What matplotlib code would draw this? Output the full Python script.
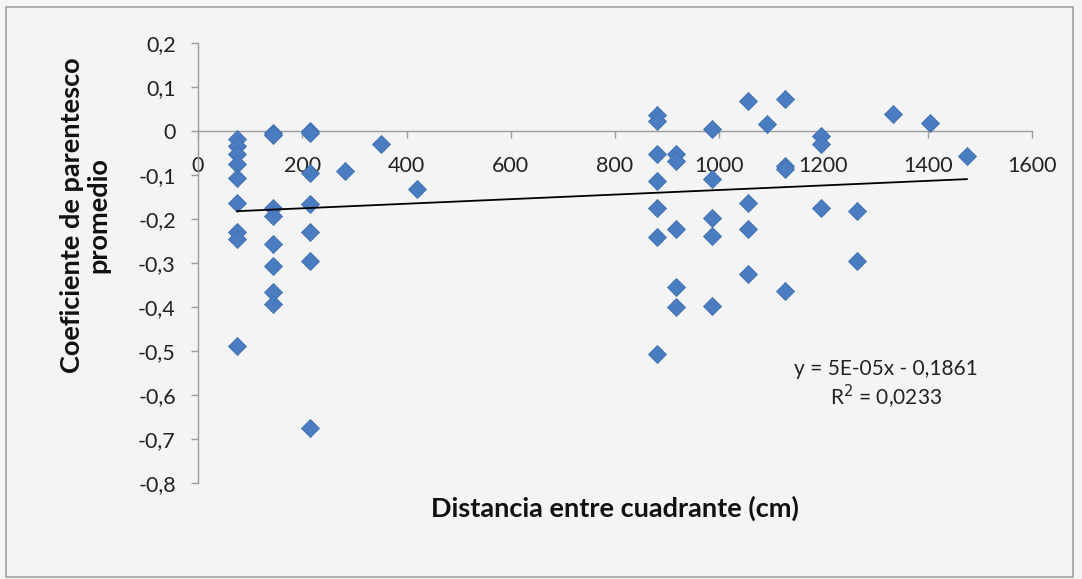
import numpy as np
import matplotlib
matplotlib.use("Agg")
import matplotlib.pyplot as plt
from matplotlib.patches import Rectangle

plt.rcParams['font.family'] = ['Lato', 'DejaVu Sans']

# data (distance in cm, mean relatedness)
dist = [75, 75, 75, 75, 75, 75, 75, 75, 75,
        143, 143, 143, 143, 143, 143, 143, 143,
        215, 215, 215, 215, 215, 215, 215,
        282, 352, 421,
        880, 880, 880, 880, 880, 880, 880,
        917, 917, 917, 917, 917,
        987, 987, 987, 987, 987,
        1056, 1056, 1056, 1056,
        1091,
        1126, 1126, 1126, 1126,
        1195, 1195, 1195,
        1265, 1265,
        1334, 1404, 1475]
coef = [-0.019, -0.034, -0.053, -0.076, -0.106, -0.163, -0.230, -0.245, -0.488,
        -0.004, -0.010, -0.174, -0.193, -0.257, -0.306, -0.367, -0.393,
        0.000, -0.005, -0.095, -0.166, -0.230, -0.295, -0.676,
        -0.091, -0.030, -0.132,
        0.037, 0.022, -0.053, -0.113, -0.174, -0.242, -0.506,
        -0.053, -0.068, -0.223, -0.355, -0.400,
        0.004, -0.110, -0.197, -0.238, -0.397,
        0.068, -0.163, -0.223, -0.325,
        0.015,
        0.072, -0.080, -0.087, -0.363,
        -0.011, -0.030, -0.174,
        -0.181, -0.295,
        0.038, 0.019, -0.057]

# trend line as shown on the chart
trend_slope = 5.2e-05
trend_intercept = -0.1861
eq_text = "y = 5E-05x - 0,1861\nR$^2$ = 0,0233"

x_ticks = [0, 200, 400, 600, 800, 1000, 1200, 1400, 1600]
y_ticks = [0.2, 0.1, 0, -0.1, -0.2, -0.3, -0.4, -0.5, -0.6, -0.7, -0.8]

bg = '#f4f4f4'
axis_col = '#9c9c9c'

fig = plt.figure(figsize=(10.82, 5.79), dpi=100, facecolor=bg)
ax = fig.add_axes([198 / 1082, 96 / 579, 834 / 1082, 440 / 579])
ax.set_facecolor(bg)

ax.plot(dist, coef, ls='none', marker='D', ms=9.5, color='#4a7dc0',
        mec='#3f6fb0', mew=0.6, zorder=3)

xs = np.array([min(dist), max(dist)])
ax.plot(xs, trend_slope * xs + trend_intercept, color='black', lw=1.3, zorder=4)

ax.set_xlim(0, 1600)
ax.set_ylim(-0.8, 0.2)
ax.set_xticks(x_ticks)
ax.set_yticks(y_ticks)
ax.set_xticklabels([str(v) for v in x_ticks])
ax.set_yticklabels([f"{v:g}".replace('.', ',') for v in y_ticks])

for s in ['top', 'right']:
    ax.spines[s].set_visible(False)
ax.spines['bottom'].set_position(('data', 0))
for s in ['bottom', 'left']:
    ax.spines[s].set_color(axis_col)
    ax.spines[s].set_linewidth(1.0)

ax.tick_params(axis='x', direction='out', length=5, width=1, color=axis_col,
               labelsize=15.5, pad=13, labelcolor='#222222')
ax.tick_params(axis='y', direction='out', length=5, width=1, color=axis_col,
               labelsize=15.5, pad=11, labelcolor='#222222')

ax.text(-0.1355, 0.609, "Coeficiente de parentesco\npromedio", transform=ax.transAxes,
        rotation=90, ha='center', va='center', multialignment='center',
        fontsize=19.5, fontweight='bold', linespacing=1.1, color='#111111')
ax.text(0.5, -0.057, "Distancia entre cuadrante (cm)", transform=ax.transAxes,
        ha='center', va='center', fontsize=19.5, fontweight='bold', color='#111111')

ax.text((886 - 198) / 834, (483 - 385) / 440, eq_text, transform=ax.transAxes,
        ha='center', va='center', multialignment='center', fontsize=15,
        linespacing=1.2, color='#222222')

fig.patches.append(Rectangle((6 / 1082, 2 / 579), 1067 / 1082, 570 / 579,
                             transform=fig.transFigure, fill=False,
                             edgecolor='#a0a0a0', lw=1.2))

fig.savefig('out.png', dpi=100, facecolor=bg)
